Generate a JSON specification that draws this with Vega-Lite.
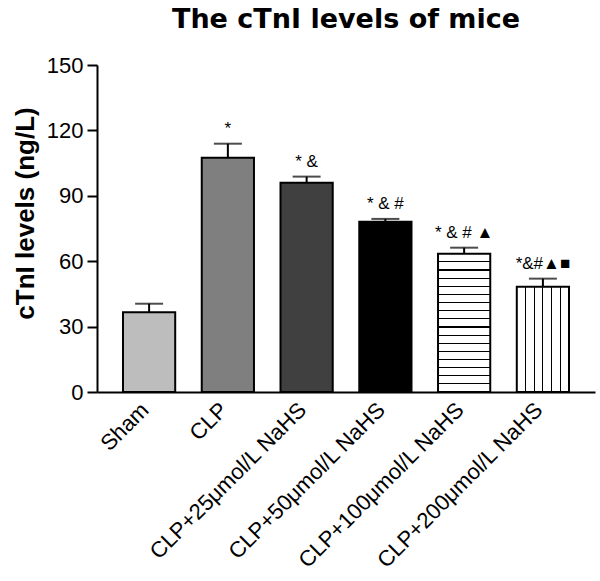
{
  "$schema": "https://vega.github.io/schema/vega-lite/v6.json",
  "width": 498,
  "height": 327,
  "autosize": "none",
  "padding": {"left": 97, "top": 65, "right": 5, "bottom": 189},
  "background": "white",
  "title": {
    "text": "The cTnI levels of mice",
    "font": "DejaVu Sans",
    "fontSize": 27,
    "fontWeight": "bold",
    "color": "black",
    "anchor": "middle",
    "baseline": "alphabetic",
    "offset": -1
  },
  "data": {
    "values": [
      {"group": "Sham", "value": 36.6, "err": 40.5, "label": ""},
      {"group": "CLP", "value": 107.5, "err": 113.9, "label": "*"},
      {"group": "CLP+25μmol/L NaHS", "value": 96.0, "err": 98.8, "label": "*  &"},
      {"group": "CLP+50μmol/L NaHS", "value": 78.1, "err": 79.4, "label": "*  & #"},
      {"group": "CLP+100μmol/L NaHS", "value": 63.4, "err": 66.2, "label": "* & # ▲"},
      {"group": "CLP+200μmol/L NaHS", "value": 48.3, "err": 52.0, "label": "*&#▲■"}
    ]
  },
  "encoding": {
    "x": {
      "field": "group",
      "type": "nominal",
      "sort": null,
      "scale": {
        "domain": ["Sham", "CLP", "CLP+25μmol/L NaHS", "CLP+50μmol/L NaHS", "CLP+100μmol/L NaHS", "CLP+200μmol/L NaHS"],
        "paddingInner": 0.337,
        "paddingOuter": 0.33
      },
      "axis": {
        "title": null,
        "labelAngle": -45,
        "labelAlign": "right",
        "labelBaseline": "middle",
        "labelFont": "Liberation Sans",
        "labelFontSize": 22,
        "labelColor": "black",
        "labelPadding": 14,
        "labelOffset": -4,
        "labelLimit": 0,
        "ticks": false,
        "tickSize": 0,
        "domainColor": "black",
        "domainWidth": 2
      }
    }
  },
  "layer": [
    {
      "transform": [{"filter": "datum.group == 'Sham' || datum.group == 'CLP' || datum.group == 'CLP+25μmol/L NaHS' || datum.group == 'CLP+50μmol/L NaHS'"}],
      "mark": {"type": "bar", "stroke": "black", "strokeWidth": 2},
      "encoding": {
        "y": {
          "field": "value",
          "type": "quantitative",
          "scale": {"domain": [0, 150], "nice": false},
          "axis": {
            "values": [0, 30, 60, 90, 120, 150],
            "grid": false,
            "title": "cTnI levels (ng/L)",
            "titleFont": "Liberation Sans",
            "titleFontSize": 26,
            "titleFontWeight": "bold",
            "titleColor": "black",
            "titleAngle": -90,
            "titleAlign": "center",
            "titleBaseline": "alphabetic",
            "titleX": -64,
            "titleY": 148,
            "labelFont": "Liberation Sans",
            "labelFontSize": 22,
            "labelColor": "black",
            "labelPadding": 4,
            "tickSize": 10,
            "tickWidth": 2,
            "tickColor": "black",
            "domainColor": "black",
            "domainWidth": 2
          }
        },
        "fill": {
          "field": "group",
          "type": "nominal",
          "scale": {
            "domain": ["Sham", "CLP", "CLP+25μmol/L NaHS", "CLP+50μmol/L NaHS"],
            "range": ["#bdbdbd", "#7f7f7f", "#404040", "#000000"]
          },
          "legend": null
        }
      }
    },
    {
      "transform": [{"filter": "datum.group == 'CLP+100μmol/L NaHS'"}],
      "mark": {
        "type": "bar",
        "stroke": "black",
        "strokeWidth": 2,
        "fill": {
          "gradient": "linear",
          "x1": 0, "y1": 0, "x2": 0, "y2": 1,
          "stops": [
            {"offset": 0, "color": "white"},
            {"offset": 0.0548, "color": "white"}, {"offset": 0.0548, "color": "black"}, {"offset": 0.0628, "color": "black"}, {"offset": 0.0628, "color": "white"},
            {"offset": 0.1136, "color": "white"}, {"offset": 0.1136, "color": "black"}, {"offset": 0.1216, "color": "black"}, {"offset": 0.1216, "color": "white"},
            {"offset": 0.1725, "color": "white"}, {"offset": 0.1725, "color": "black"}, {"offset": 0.1805, "color": "black"}, {"offset": 0.1805, "color": "white"},
            {"offset": 0.2313, "color": "white"}, {"offset": 0.2313, "color": "black"}, {"offset": 0.2393, "color": "black"}, {"offset": 0.2393, "color": "white"},
            {"offset": 0.2901, "color": "white"}, {"offset": 0.2901, "color": "black"}, {"offset": 0.2981, "color": "black"}, {"offset": 0.2981, "color": "white"},
            {"offset": 0.3489, "color": "white"}, {"offset": 0.3489, "color": "black"}, {"offset": 0.3569, "color": "black"}, {"offset": 0.3569, "color": "white"},
            {"offset": 0.4078, "color": "white"}, {"offset": 0.4078, "color": "black"}, {"offset": 0.4158, "color": "black"}, {"offset": 0.4158, "color": "white"},
            {"offset": 0.4666, "color": "white"}, {"offset": 0.4666, "color": "black"}, {"offset": 0.4746, "color": "black"}, {"offset": 0.4746, "color": "white"},
            {"offset": 0.5254, "color": "white"}, {"offset": 0.5254, "color": "black"}, {"offset": 0.5334, "color": "black"}, {"offset": 0.5334, "color": "white"},
            {"offset": 0.5842, "color": "white"}, {"offset": 0.5842, "color": "black"}, {"offset": 0.5922, "color": "black"}, {"offset": 0.5922, "color": "white"},
            {"offset": 0.6431, "color": "white"}, {"offset": 0.6431, "color": "black"}, {"offset": 0.6511, "color": "black"}, {"offset": 0.6511, "color": "white"},
            {"offset": 0.7019, "color": "white"}, {"offset": 0.7019, "color": "black"}, {"offset": 0.7099, "color": "black"}, {"offset": 0.7099, "color": "white"},
            {"offset": 0.7607, "color": "white"}, {"offset": 0.7607, "color": "black"}, {"offset": 0.7687, "color": "black"}, {"offset": 0.7687, "color": "white"},
            {"offset": 0.8195, "color": "white"}, {"offset": 0.8195, "color": "black"}, {"offset": 0.8275, "color": "black"}, {"offset": 0.8275, "color": "white"},
            {"offset": 0.8784, "color": "white"}, {"offset": 0.8784, "color": "black"}, {"offset": 0.8864, "color": "black"}, {"offset": 0.8864, "color": "white"},
            {"offset": 0.9372, "color": "white"}, {"offset": 0.9372, "color": "black"}, {"offset": 0.9452, "color": "black"}, {"offset": 0.9452, "color": "white"},
            {"offset": 1, "color": "white"}
          ]
        }
      },
      "encoding": {
        "y": {"field": "value", "type": "quantitative"}
      }
    },
    {
      "transform": [{"filter": "datum.group == 'CLP+200μmol/L NaHS'"}],
      "mark": {
        "type": "bar",
        "stroke": "black",
        "strokeWidth": 2,
        "fill": {
          "gradient": "linear",
          "x1": 0, "y1": 0, "x2": 1, "y2": 0,
          "stops": [
            {"offset": 0, "color": "white"},
            {"offset": 0.157, "color": "white"}, {"offset": 0.157, "color": "black"}, {"offset": 0.177, "color": "black"}, {"offset": 0.177, "color": "white"},
            {"offset": 0.323, "color": "white"}, {"offset": 0.323, "color": "black"}, {"offset": 0.343, "color": "black"}, {"offset": 0.343, "color": "white"},
            {"offset": 0.490, "color": "white"}, {"offset": 0.490, "color": "black"}, {"offset": 0.510, "color": "black"}, {"offset": 0.510, "color": "white"},
            {"offset": 0.657, "color": "white"}, {"offset": 0.657, "color": "black"}, {"offset": 0.677, "color": "black"}, {"offset": 0.677, "color": "white"},
            {"offset": 0.823, "color": "white"}, {"offset": 0.823, "color": "black"}, {"offset": 0.843, "color": "black"}, {"offset": 0.843, "color": "white"},
            {"offset": 1, "color": "white"}
          ]
        }
      },
      "encoding": {
        "y": {"field": "value", "type": "quantitative"}
      }
    },
    {
      "mark": {"type": "rule", "color": "black", "strokeWidth": 2},
      "encoding": {
        "y": {"field": "value", "type": "quantitative"},
        "y2": {"field": "err"}
      }
    },
    {
      "mark": {"type": "tick", "color": "black", "thickness": 2, "size": 28, "orient": "horizontal"},
      "encoding": {
        "y": {"field": "err", "type": "quantitative"}
      }
    },
    {
      "mark": {"type": "text", "font": "Liberation Sans", "fontSize": 17, "color": "black", "baseline": "alphabetic", "align": "center", "dy": -10},
      "encoding": {
        "y": {"field": "err", "type": "quantitative"},
        "text": {"field": "label"}
      }
    }
  ],
  "config": {
    "view": {"stroke": null}
  }
}
